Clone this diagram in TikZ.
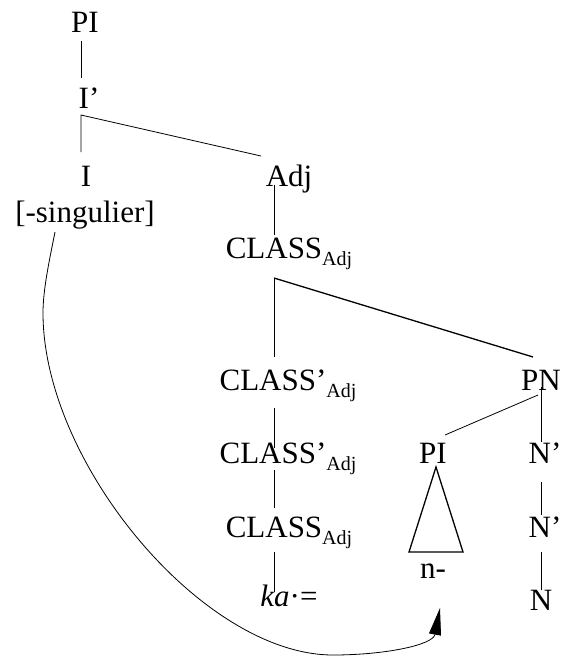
\documentclass[tikz,border=0pt]{standalone}
\usepackage{fontspec}
\setmainfont{Liberation Serif}
\usepackage{tikz}
\usetikzlibrary{arrows.meta, calc}

\newcommand{\catsub}[1]{\raisebox{-7pt}{\fontsize{20}{21}\selectfont #1}}

\begin{document}
\begin{tikzpicture}[
  x=1pt, y=-1pt,
  lbl/.style={anchor=base, inner sep=0pt, font=\fontsize{31}{33}\selectfont},
  edge/.style={line width=0.8pt},
  thickedge/.style={line width=1.3pt},
  move/.style={line width=0.8pt, -{Triangle[length=27pt, width=12pt]}},
]
  \useasboundingbox (0,0) rectangle (561,656);

  \node[lbl] (pi)     at (85,32)   {PI};
  \node[lbl] (ibar)   at (89,108)  {I'};
  \node[lbl] (infl)   at (86,186)  {I};
  \node[lbl] (sing)   at (85,222)  {[-singulier]};
  \node[lbl] (adj)    at (289,186) {Adj};
  \node[lbl] (cls)    at (289,258) {CLASS\catsub{Adj}};
  \node[lbl] (clsb)   at (288,390) {CLASS'\catsub{Adj}};
  \node[lbl] (clsbb)  at (288,463) {CLASS'\catsub{Adj}};
  \node[lbl] (clsn)   at (289,537) {CLASS\catsub{Adj}};
  \node[lbl] (ka)     at (289,606) {\textit{ka}·=};
  \node[lbl] (pn)     at (541,390) {PN};
  \node[lbl] (pisub)  at (433,463) {PI};
  \node[lbl] (nmorph) at (433,578) {n-};
  \node[lbl] (nbar)   at (545,463) {N'};
  \node[lbl] (nbarb)  at (545,537) {N'};
  \node[lbl] (noun)   at (541,610) {N};

  \draw[edge] ([shift={(-4,9)}]pi.base) -- ([shift={(-8,-30)}]ibar.base);
  \draw[edge] ([shift={(-5,-34)}]infl.base) -- ([shift={(-8,7)}]ibar.base)
    -- ([shift={(-28,-30)}]adj.base);
  \draw[edge] ([shift={(-15,-1)}]adj.base) -- ([shift={(-15,-23)}]cls.base);
  \draw[edge] ([shift={(-14,-33)}]clsb.base) -- ([shift={(-15,20)}]cls.base);
  \draw[thickedge] ([shift={(-15,20)}]cls.base) -- ([shift={(-8,-33)}]pn.base);
  \draw[edge] ([shift={(-14,18)}]clsb.base) -- ([shift={(-14,-15)}]clsbb.base);
  \draw[edge] ([shift={(-14,7)}]clsbb.base) -- ([shift={(-15,-29)}]clsn.base);
  \draw[edge] ([shift={(-15,15)}]clsn.base) -- ([shift={(-15,-14)}]ka.base);
  \draw[edge] ([shift={(-3,5)}]pn.base) -- ([shift={(12,-28)}]pisub.base);
  \draw[edge] ([shift={(0,-3)}]pn.base) -- ([shift={(-4,-21)}]nbar.base);
  \draw[edge] ([shift={(-4,19)}]nbar.base) -- ([shift={(-4,-22)}]nbarb.base);
  \draw[edge] ([shift={(-4,15)}]nbarb.base) -- ([shift={(0,-20)}]noun.base);
  \draw[thickedge] ([shift={(3,4)}]pisub.base) -- ([shift={(-24,-26)}]nmorph.base)
    -- ([shift={(30,-26)}]nmorph.base) -- cycle;

  \draw[move] ([shift={(-30,10)}]sing.base) .. controls (49,262) and (43,290) .. (43,313)
    .. controls (43,463) and (203,655) .. (333,655)
    .. controls (385,655) and (433,645) .. ([shift={(7,30)}]nmorph.base);
\end{tikzpicture}
\end{document}
